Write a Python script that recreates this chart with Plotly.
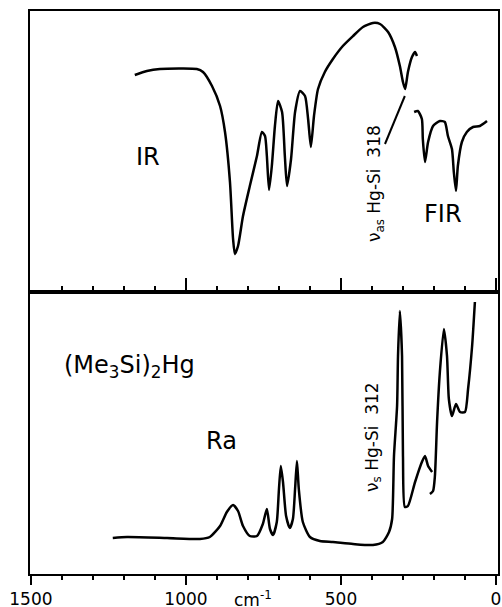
import plotly.graph_objects as go
from plotly.subplots import make_subplots

# ---- data (wavenumber in cm^-1, intensity in arbitrary units) ----
ir_wn = [1165, 1126, 1084, 965, 945, 916, 890, 874, 858, 848, 842, 832, 816, 794, 771, 755,
         745, 739, 732, 723, 713, 703, 690, 681, 674, 661, 648, 632, 616, 606, 597, 587, 574,
         552, 526, 494, 461, 429, 397, 374, 348, 326, 310, 300, 293, 284, 271, 261, 255]
ir_int = [217, 221, 223, 223, 220, 206, 186, 160, 110, 53, 38, 46, 76, 106, 136, 160,
          156, 136, 102, 126, 166, 191, 180, 136, 106, 133, 180, 201, 196, 173, 145, 176, 203,
          220, 233, 246, 256, 265, 269, 268, 260, 245, 226, 210, 203, 220, 235, 240, 236]

fir_wn = [264, 252, 239, 236, 229, 219, 203, 181, 165, 155, 142, 136, 129, 123, 110, 94, 74, 52, 29]
fir_int = [180, 181, 173, 153, 130, 150, 166, 171, 170, 156, 143, 120, 101, 126, 150, 160, 165, 166, 171]

ra_wn = [1236, 1190, 1061, 955, 923, 890, 868, 848, 832, 816, 794, 771, 752, 739, 729, 719,
         707, 700, 694, 687, 677, 665, 655, 648, 642, 636, 623, 600, 568, 526, 461, 397, 365,
         345, 335, 329, 319, 316, 310, 303, 300, 294, 284, 261, 239, 229, 219, 206]
ra_int = [36, 37, 36, 35, 37, 48, 62, 69, 63, 48, 38, 38, 50, 65, 45, 39,
          52, 85, 108, 92, 58, 46, 55, 85, 113, 85, 52, 37, 33, 32, 30, 29, 32,
          42, 55, 118, 168, 218, 263, 218, 118, 67, 68, 92, 112, 118, 108, 102]

ra2_wn = [213, 203, 197, 190, 181, 168, 158, 152, 142, 129, 116, 100, 90, 77, 68]
ra2_int = [80, 83, 98, 152, 202, 245, 218, 175, 158, 170, 162, 162, 185, 228, 272]

xticks = [1500, 1000, 500, 0]
xticklabels = ["1500", "1000", "500", "0"]

fig = make_subplots(rows=2, cols=1, shared_xaxes=False, vertical_spacing=0)

line = dict(color="black", width=2.5, shape="spline", smoothing=0.6)
fig.add_trace(go.Scatter(x=ir_wn, y=ir_int, mode="lines", line=line, hoverinfo="skip"), row=1, col=1)
fig.add_trace(go.Scatter(x=fir_wn, y=fir_int, mode="lines", line=line, hoverinfo="skip"), row=1, col=1)
fig.add_trace(go.Scatter(x=ra_wn, y=ra_int, mode="lines", line=line, hoverinfo="skip"), row=2, col=1)
fig.add_trace(go.Scatter(x=ra2_wn, y=ra2_int, mode="lines", line=line, hoverinfo="skip"), row=2, col=1)

FONT = "DejaVu Sans"
split = (574 - 292) / (574 - 11)
xr = [1503, -6.5]
common_x = dict(range=xr, showgrid=False, zeroline=False, showline=True, mirror=True,
                linecolor="black", linewidth=2, tickvals=xticks, automargin=False)
fig.update_layout(
    xaxis=dict(**common_x, domain=[0, 1], anchor="y", ticks="inside", ticklen=14, tickwidth=2,
               tickcolor="black", showticklabels=False,
               minor=dict(tick0=0, dtick=100, ticks="inside", ticklen=6, tickwidth=2, tickcolor="black")),
    yaxis=dict(domain=[split, 1], range=[0, 281], showgrid=False, zeroline=False, showline=True,
               mirror=True, linecolor="black", linewidth=2, showticklabels=False, ticks="",
               automargin=False),
    xaxis2=dict(**common_x, domain=[0, 1], anchor="y2", ticks="outside", ticklen=9, tickwidth=2,
                tickcolor="black", ticktext=xticklabels,
                tickfont=dict(family=FONT, size=17, color="black"),
                minor=dict(tick0=0, dtick=100, ticks="outside", ticklen=4, tickwidth=2, tickcolor="black")),
    yaxis2=dict(domain=[0, split], range=[0, 282], showgrid=False, zeroline=False, showline=True,
                mirror=True, linecolor="black", linewidth=2, showticklabels=False, ticks="",
                automargin=False),
)

fig.add_shape(type="line", xref="x", yref="y", x0=358, y0=148, x1=294, y1=196,
              line=dict(color="black", width=2))

anns = [
    dict(xref="x", yref="y", x=1123, y=135, text="IR", size=24, angle=0),
    dict(xref="x", yref="y", x=171, y=78, text="FIR", size=24, angle=0),
    dict(xref="x", yref="y", x=390, y=108, text="ν<sub>as</sub> Hg-Si  318", size=17, angle=-90),
    dict(xref="x2", yref="y2", x=1181, y=208, text="(Me<sub>3</sub>Si)<sub>2</sub>Hg", size=24, angle=0),
    dict(xref="x2", yref="y2", x=884, y=133, text="Ra", size=24, angle=0),
    dict(xref="x2", yref="y2", x=397, y=137, text="ν<sub>s</sub> Hg-Si  312", size=17, angle=-90),
    dict(xref="x2", yref="paper", x=784, y=-0.045, text="cm<sup>-1</sup>", size=17, angle=0),
]
for a in anns:
    fig.add_annotation(xref=a["xref"], yref=a["yref"], x=a["x"], y=a["y"], text=a["text"],
                       showarrow=False, textangle=a["angle"],
                       font=dict(family=FONT, color="black", size=a["size"]),
                       yanchor="middle", xanchor="center")

fig.update_layout(width=502, height=607, margin=dict(l=30, r=4, t=11, b=33),
                  paper_bgcolor="white", plot_bgcolor="white", showlegend=False)

fig.write_html("out.html", config={"displayModeBar": False},
               post_script="document.body.style.margin='0';document.body.style.overflow='hidden';")
